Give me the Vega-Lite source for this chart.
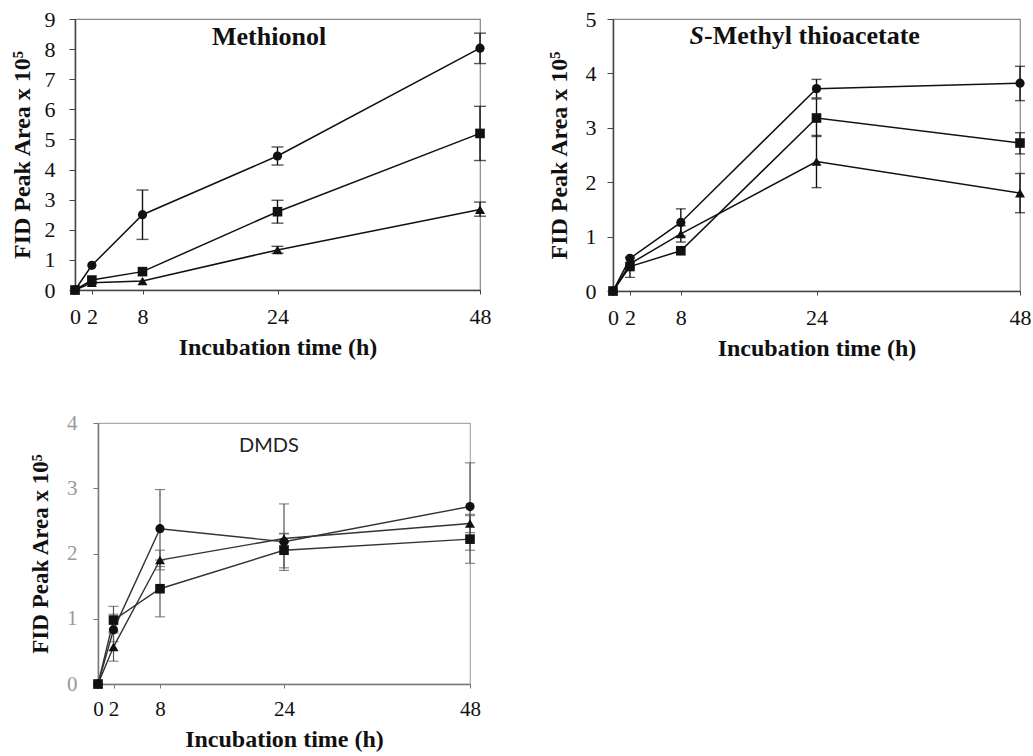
{
  "$schema": "https://vega.github.io/schema/vega-lite/v6.json",
  "padding": {"left": 9, "top": 7, "right": 2, "bottom": 4},
  "background": "white",
  "config": {
    "axis": {"labelOverlap": false, "labelBound": false}
  },
  "datasets": {
    "methionol": [
      {"series": "A", "t": 0, "v": 0},
      {"series": "A", "t": 2, "v": 0.82},
      {"series": "A", "t": 8, "v": 2.5, "lo": 1.68, "hi": 3.32},
      {"series": "A", "t": 24, "v": 4.45, "lo": 4.15, "hi": 4.75},
      {"series": "A", "t": 48, "v": 8.03, "lo": 7.52, "hi": 8.53},
      {"series": "B", "t": 0, "v": 0},
      {"series": "B", "t": 2, "v": 0.33},
      {"series": "B", "t": 8, "v": 0.61},
      {"series": "B", "t": 24, "v": 2.6, "lo": 2.22, "hi": 2.98},
      {"series": "B", "t": 48, "v": 5.2, "lo": 4.3, "hi": 6.1},
      {"series": "C", "t": 0, "v": 0},
      {"series": "C", "t": 2, "v": 0.24},
      {"series": "C", "t": 8, "v": 0.3},
      {"series": "C", "t": 24, "v": 1.33, "lo": 1.22, "hi": 1.45},
      {"series": "C", "t": 48, "v": 2.67, "lo": 2.45, "hi": 2.92}
    ],
    "thioacetate": [
      {"series": "A", "t": 0, "v": 0},
      {"series": "A", "t": 2, "v": 0.6},
      {"series": "A", "t": 8, "v": 1.26, "lo": 1.01, "hi": 1.51},
      {"series": "A", "t": 24, "v": 3.72, "lo": 3.55, "hi": 3.89},
      {"series": "A", "t": 48, "v": 3.82, "lo": 3.5, "hi": 4.13},
      {"series": "B", "t": 0, "v": 0},
      {"series": "B", "t": 2, "v": 0.45, "lo": 0.25, "hi": 0.62},
      {"series": "B", "t": 8, "v": 0.74},
      {"series": "B", "t": 24, "v": 3.18, "lo": 2.84, "hi": 3.53},
      {"series": "B", "t": 48, "v": 2.72, "lo": 2.52, "hi": 2.91},
      {"series": "C", "t": 0, "v": 0},
      {"series": "C", "t": 2, "v": 0.5},
      {"series": "C", "t": 8, "v": 1.05, "lo": 0.9, "hi": 1.2},
      {"series": "C", "t": 24, "v": 2.38, "lo": 1.9, "hi": 2.86},
      {"series": "C", "t": 48, "v": 1.8, "lo": 1.44, "hi": 2.16}
    ],
    "dmds": [
      {"series": "A", "t": 0, "v": 0},
      {"series": "A", "t": 2, "v": 0.83, "lo": 0.65, "hi": 1.07},
      {"series": "A", "t": 8, "v": 2.38, "lo": 1.8, "hi": 2.98},
      {"series": "A", "t": 24, "v": 2.18, "lo": 1.78, "hi": 2.76},
      {"series": "A", "t": 48, "v": 2.72, "lo": 2.05, "hi": 3.39},
      {"series": "B", "t": 0, "v": 0},
      {"series": "B", "t": 2, "v": 0.98, "lo": 0.78, "hi": 1.19},
      {"series": "B", "t": 8, "v": 1.46, "lo": 1.03, "hi": 1.9},
      {"series": "B", "t": 24, "v": 2.05, "lo": 1.74, "hi": 2.31},
      {"series": "B", "t": 48, "v": 2.22, "lo": 1.85, "hi": 2.58},
      {"series": "C", "t": 0, "v": 0},
      {"series": "C", "t": 2, "v": 0.57, "lo": 0.35, "hi": 0.8},
      {"series": "C", "t": 8, "v": 1.9, "lo": 1.75, "hi": 2.05},
      {"series": "C", "t": 24, "v": 2.23, "lo": 2.12, "hi": 2.3},
      {"series": "C", "t": 48, "v": 2.46, "lo": 2.32, "hi": 2.6}
    ]
  },
  "vconcat": [
    {
      "hconcat": [
        {
          "width": 405,
          "height": 271,
          "view": {"stroke": "#888", "strokeWidth": 1.2},
          "data": {"name": "methionol"},
          "layer": [
            {
              "mark": {"type": "line", "color": "#111", "strokeWidth": 1.5},
              "encoding": {
                "x": {"field": "t", "type": "quantitative", "scale": {"domain": [0, 48], "nice": false},
                  "axis": {"values": [0, 2, 8, 24, 48], "tickCount": 20, "title": "Incubation time (h)", "grid": false, "tickSize": 4, "labelPadding": 12, "titlePadding": 8, "labelOverlap": false, "labelFlush": false,
                    "labelFont": "Liberation Serif", "labelFontSize": 22, "labelColor": "#111", "titleFont": "Liberation Serif", "titleFontSize": 24, "titleFontWeight": "bold", "titleColor": "#111", "domainColor": "#444", "domainWidth": 1.5, "tickColor": "#444"}},
                "y": {"field": "v", "type": "quantitative", "scale": {"domain": [0, 9], "nice": false},
                  "axis": {"values": [0, 1, 2, 3, 4, 5, 6, 7, 8, 9], "tickCount": 20, "format": "d", "title": "FID Peak Area x 10⁵", "grid": false, "tickSize": 6, "labelPadding": 14, "titlePadding": 10, "labelOverlap": false, "labelFlush": false,
                    "labelFont": "Liberation Serif", "labelFontSize": 22, "labelColor": "#111", "titleFont": "Liberation Serif", "titleFontSize": 24, "titleFontWeight": "bold", "titleColor": "#111", "domainColor": "#444", "domainWidth": 1.5, "tickColor": "#444"}},
                "detail": {"field": "series"}
              }
            },
            {
              "transform": [{"filter": "datum.lo != null"}],
              "mark": {"type": "errorbar", "color": "#111", "thickness": 1.4, "ticks": {"size": 12}},
              "encoding": {
                "x": {"field": "t", "type": "quantitative", "title": "Incubation time (h)"},
                "y": {"field": "lo", "type": "quantitative", "title": "FID Peak Area x 10⁵"},
                "y2": {"field": "hi"}
              }
            },
            {
              "mark": {"type": "point", "filled": true, "opacity": 1, "color": "#111"},
              "encoding": {
                "x": {"field": "t", "type": "quantitative"},
                "y": {"field": "v", "type": "quantitative"},
                "shape": {"field": "series", "type": "nominal", "scale": {"domain": ["A", "B", "C"], "range": ["circle", "square", "triangle-up"]}, "legend": null},
                "size": {"field": "series", "type": "nominal", "scale": {"domain": ["A", "B", "C"], "range": [85, 100, 90]}, "legend": null}
              }
            },
            {
              "data": {"values": [{}]},
              "mark": {"type": "text", "font": "Liberation Serif", "fontSize": 26, "fontWeight": "bold", "color": "#111", "baseline": "middle", "align": "center"},
              "encoding": {
                "x": {"datum": 23, "type": "quantitative"},
                "y": {"datum": 8.4, "type": "quantitative"},
                "text": {"value": "Methionol"}
              }
            }
          ]
        },
        {
          "width": 407,
          "height": 272,
          "view": {"stroke": "#888", "strokeWidth": 1.2},
          "data": {"name": "thioacetate"},
          "layer": [
            {
              "mark": {"type": "line", "color": "#111", "strokeWidth": 1.5},
              "encoding": {
                "x": {"field": "t", "type": "quantitative", "scale": {"domain": [0, 48], "nice": false},
                  "axis": {"values": [0, 2, 8, 24, 48], "tickCount": 20, "title": "Incubation time (h)", "grid": false, "tickSize": 4, "labelPadding": 12, "titlePadding": 8, "labelOverlap": false, "labelFlush": false,
                    "labelFont": "Liberation Serif", "labelFontSize": 22, "labelColor": "#111", "titleFont": "Liberation Serif", "titleFontSize": 24, "titleFontWeight": "bold", "titleColor": "#111", "domainColor": "#444", "domainWidth": 1.5, "tickColor": "#444"}},
                "y": {"field": "v", "type": "quantitative", "scale": {"domain": [0, 5], "nice": false},
                  "axis": {"values": [0, 1, 2, 3, 4, 5], "tickCount": 20, "format": "d", "title": "FID Peak Area x 10⁵", "grid": false, "tickSize": 6, "labelPadding": 11, "titlePadding": 14, "labelOverlap": false, "labelFlush": false,
                    "labelFont": "Liberation Serif", "labelFontSize": 22, "labelColor": "#111", "titleFont": "Liberation Serif", "titleFontSize": 24, "titleFontWeight": "bold", "titleColor": "#111", "domainColor": "#444", "domainWidth": 1.5, "tickColor": "#444"}},
                "detail": {"field": "series"}
              }
            },
            {
              "transform": [{"filter": "datum.lo != null"}],
              "mark": {"type": "errorbar", "color": "#111", "thickness": 1.4, "ticks": {"size": 10}},
              "encoding": {
                "x": {"field": "t", "type": "quantitative", "title": "Incubation time (h)"},
                "y": {"field": "lo", "type": "quantitative", "title": "FID Peak Area x 10⁵"},
                "y2": {"field": "hi"}
              }
            },
            {
              "mark": {"type": "point", "filled": true, "opacity": 1, "color": "#111"},
              "encoding": {
                "x": {"field": "t", "type": "quantitative"},
                "y": {"field": "v", "type": "quantitative"},
                "shape": {"field": "series", "type": "nominal", "scale": {"domain": ["A", "B", "C"], "range": ["circle", "square", "triangle-up"]}, "legend": null},
                "size": {"field": "series", "type": "nominal", "scale": {"domain": ["A", "B", "C"], "range": [85, 100, 90]}, "legend": null}
              }
            },
            {
              "data": {"values": [{}]},
              "mark": {"type": "text", "font": "Liberation Serif", "fontSize": 26, "fontWeight": "bold", "fontStyle": "italic", "color": "#111", "baseline": "middle", "align": "right"},
              "encoding": {
                "x": {"datum": 10.73, "type": "quantitative"},
                "y": {"datum": 4.69, "type": "quantitative"},
                "text": {"value": "S"}
              }
            },
            {
              "data": {"values": [{}]},
              "mark": {"type": "text", "font": "Liberation Serif", "fontSize": 26, "fontWeight": "bold", "color": "#111", "baseline": "middle", "align": "left"},
              "encoding": {
                "x": {"datum": 10.73, "type": "quantitative"},
                "y": {"datum": 4.69, "type": "quantitative"},
                "text": {"value": "-Methyl thioacetate"}
              }
            }
          ]
        }
      ],
      "spacing": 54,
      "align": "none"
    },
    {
      "hconcat": [
        {
          "width": 1,
          "height": 261,
          "view": {"stroke": null},
          "data": {"values": []},
          "mark": "point"
        },
        {
          "width": 372,
          "height": 261,
          "view": {"stroke": "#aaa", "strokeWidth": 1.2},
          "data": {"name": "dmds"},
          "layer": [
            {
              "mark": {"type": "line", "color": "#333", "strokeWidth": 1.4},
              "encoding": {
                "x": {"field": "t", "type": "quantitative", "scale": {"domain": [0, 48], "nice": false},
                  "axis": {"values": [0, 2, 8, 24, 48], "tickCount": 20, "title": "Incubation time (h)", "grid": false, "tickSize": 4, "labelPadding": 10, "titlePadding": 8, "labelOverlap": false, "labelFlush": false,
                    "labelFont": "Liberation Serif", "labelFontSize": 21, "labelColor": "#111", "titleFont": "Liberation Serif", "titleFontSize": 24, "titleFontWeight": "bold", "titleColor": "#111", "domainColor": "#777", "domainWidth": 1.5, "tickColor": "#777"}},
                "y": {"field": "v", "type": "quantitative", "scale": {"domain": [0, 4], "nice": false},
                  "axis": {"values": [0, 1, 2, 3, 4], "tickCount": 20, "format": "d", "title": "FID Peak Area x 10⁵", "grid": false, "tickSize": 5, "labelPadding": 16, "titlePadding": 14, "labelOverlap": false, "labelFlush": false,
                    "labelFont": "Liberation Serif", "labelFontSize": 21, "labelColor": "#999", "titleFont": "Liberation Serif", "titleFontSize": 23, "titleFontWeight": "bold", "titleColor": "#111", "domainColor": "#777", "domainWidth": 1.5, "tickColor": "#777"}},
                "detail": {"field": "series"}
              }
            },
            {
              "transform": [{"filter": "datum.lo != null"}],
              "mark": {"type": "errorbar", "color": "#555", "thickness": 1.2, "ticks": {"size": 10}},
              "encoding": {
                "x": {"field": "t", "type": "quantitative", "title": "Incubation time (h)"},
                "y": {"field": "lo", "type": "quantitative", "title": "FID Peak Area x 10⁵"},
                "y2": {"field": "hi"}
              }
            },
            {
              "mark": {"type": "point", "filled": true, "opacity": 1, "color": "#111"},
              "encoding": {
                "x": {"field": "t", "type": "quantitative"},
                "y": {"field": "v", "type": "quantitative"},
                "shape": {"field": "series", "type": "nominal", "scale": {"domain": ["A", "B", "C"], "range": ["circle", "square", "triangle-up"]}, "legend": null},
                "size": {"field": "series", "type": "nominal", "scale": {"domain": ["A", "B", "C"], "range": [75, 90, 80]}, "legend": null}
              }
            },
            {
              "data": {"values": [{}]},
              "mark": {"type": "text", "font": "Lato", "fontSize": 20, "color": "#222", "baseline": "middle", "align": "center"},
              "encoding": {
                "x": {"datum": 22.06, "type": "quantitative"},
                "y": {"datum": 3.65, "type": "quantitative"},
                "text": {"value": "DMDS"}
              }
            }
          ]
        }
      ],
      "spacing": 22,
      "bounds": "flush"
    }
  ],
  "spacing": 50,
  "align": "none"
}
